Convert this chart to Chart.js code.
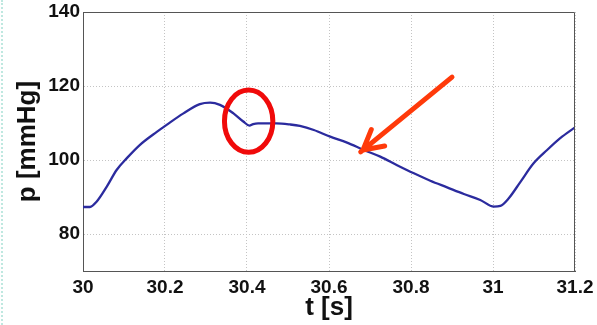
<!DOCTYPE html>
<html>
<head>
<meta charset="utf-8">
<script src="https://cdn.jsdelivr.net/npm/chart.js@4"></script>
<style>
  html, body { margin: 0; padding: 0; background: #fff; }
  body { width: 597px; height: 325px; position: relative; overflow: hidden; }
  #edge { position: absolute; left: 1px; top: 0; height: 325px; border-left: 2px dotted #bfe8e0; }
  #chart { position: absolute; left: 0; top: 0; }
</style>
</head>
<body>
<div id="edge"></div>
<canvas id="chart" width="597" height="325"></canvas>
<script>
// pressure trace, time in seconds
const time = [30, 30.017, 30.033, 30.058, 30.082, 30.107, 30.139, 30.18, 30.204, 30.245,
    30.285, 30.31, 30.334, 30.367, 30.391, 30.406, 30.415, 30.427, 30.44, 30.472,
    30.505, 30.529, 30.563, 30.603, 30.644, 30.685, 30.725, 30.766, 30.807, 30.847,
    30.888, 30.929, 30.969, 31.002, 31.018, 31.038, 31.067, 31.099, 31.132, 31.164, 31.2];
const pressure = [87.3, 87.3, 88.7, 92.8, 97.3, 100.5, 104.1, 107.6, 109.5, 112.6,
    115.1, 115.5, 114.9, 112.6, 110.4, 109.3, 109.7, 109.9, 109.9, 109.9,
    109.6, 109.2, 108.1, 106.3, 104.7, 102.7, 100.9, 98.6, 96.4, 94.4,
    92.6, 90.8, 89.2, 87.4, 87.6, 89.6, 94.1, 99.1, 102.7, 105.9, 108.8];
const xTicks = [30, 30.2, 30.4, 30.6, 30.8, 31, 31.2];
const yTicks = [80, 100, 120, 140];

// highlighted notch and the arrow pointing at the falling limb
const notch = { t: 30.404, p: 110.5, dt: 0.059, dp: 8.4 };
const arrow = { fromT: 30.9, fromP: 122.4, toT: 30.683, toP: 102.7 };

const points = time.map((t, i) => ({ x: t, y: pressure[i] }));

const marks = {
    id: 'marks',
    afterDatasetsDraw(chart) {
        const { ctx, scales: { x, y } } = chart;
        ctx.save();
        // ellipse round the notch
        const cx = x.getPixelForValue(notch.t);
        const cy = y.getPixelForValue(notch.p);
        const rx = x.getPixelForValue(notch.t + notch.dt) - cx;
        const ry = cy - y.getPixelForValue(notch.p + notch.dp);
        ctx.strokeStyle = '#f00a0a';
        ctx.lineWidth = 5;
        ctx.beginPath();
        ctx.ellipse(cx, cy, rx, ry, 0, 0, Math.PI * 2);
        ctx.stroke();
        // arrow
        const x0 = x.getPixelForValue(arrow.fromT), y0 = y.getPixelForValue(arrow.fromP);
        const x1 = x.getPixelForValue(arrow.toT), y1 = y.getPixelForValue(arrow.toP);
        const a = Math.atan2(y1 - y0, x1 - x0);
        const head = 22;
        ctx.strokeStyle = '#ff3a0a';
        ctx.lineWidth = 5;
        ctx.lineCap = 'round';
        ctx.lineJoin = 'round';
        ctx.beginPath();
        ctx.moveTo(x0, y0);
        ctx.lineTo(x1 + 3 * Math.cos(a), y1 + 3 * Math.sin(a));
        ctx.moveTo(x1 - head * Math.cos(a - 0.5), y1 - head * Math.sin(a - 0.5));
        ctx.lineTo(x1, y1);
        ctx.lineTo(x1 - head * Math.cos(a + 0.5), y1 - head * Math.sin(a + 0.5));
        ctx.stroke();
        ctx.restore();
    }
};

// box edges on top and right
const frame = {
    id: 'frame',
    afterDraw(chart) {
        const { ctx, chartArea: a } = chart;
        ctx.save();
        ctx.strokeStyle = '#555';
        ctx.lineWidth = 1;
        ctx.beginPath();
        ctx.moveTo(a.left, a.top + 0.5);
        ctx.lineTo(a.right - 0.5, a.top + 0.5);
        ctx.lineTo(a.right - 0.5, a.bottom);
        ctx.stroke();
        ctx.restore();
    }
};

const tickFont = { family: 'Liberation Sans, Arial, sans-serif', size: 19, weight: 'bold' };
const titleFont = { family: 'Liberation Sans, Arial, sans-serif', size: 26, weight: 'bold' };

new Chart(document.getElementById('chart'), {
    type: 'line',
    data: {
        datasets: [{
            data: points,
            borderColor: '#2b2b9e',
            borderWidth: 2.3,
            pointRadius: 0,
            cubicInterpolationMode: 'monotone',
            fill: false
        }]
    },
    options: {
        responsive: false,
        animation: false,
        events: [],
        layout: { padding: { left: 0, top: 12, right: 22, bottom: 0 } },
        plugins: { legend: { display: false }, tooltip: { enabled: false } },
        scales: {
            x: {
                type: 'linear',
                min: 30,
                max: 31.2,
                afterBuildTicks: s => { s.ticks = xTicks.map(v => ({ value: v })); },
                afterFit: s => { s.height = 54; s.paddingLeft = 0; s.paddingRight = 0; },
                ticks: { color: '#111', font: tickFont, padding: 5, maxRotation: 0, autoSkip: false,
                    callback: v => String(Math.round(v * 10) / 10) },
                grid: { color: '#c4c4c4', lineWidth: 1, drawTicks: false },
                border: { display: true, color: '#555', width: 1, dash: [1, 2] },
                title: { display: true, text: 't [s]', color: '#111', font: titleFont, padding: { top: 0, bottom: 2 } }
            },
            y: {
                min: 70,
                max: 140,
                afterBuildTicks: s => { s.ticks = yTicks.map(v => ({ value: v })); },
                afterFit: s => { s.width = 83; s.paddingTop = 0; s.paddingBottom = 0; },
                ticks: { color: '#111', font: tickFont, padding: 3, autoSkip: false },
                grid: { color: '#c4c4c4', lineWidth: 1, drawTicks: false },
                border: { display: true, color: '#555', width: 1, dash: [1, 2] },
                title: { display: true, text: 'p [mmHg]', color: '#111', font: titleFont, padding: { top: 12, bottom: 0 } }
            }
        }
    },
    plugins: [marks, frame]
});
</script>
</body>
</html>
